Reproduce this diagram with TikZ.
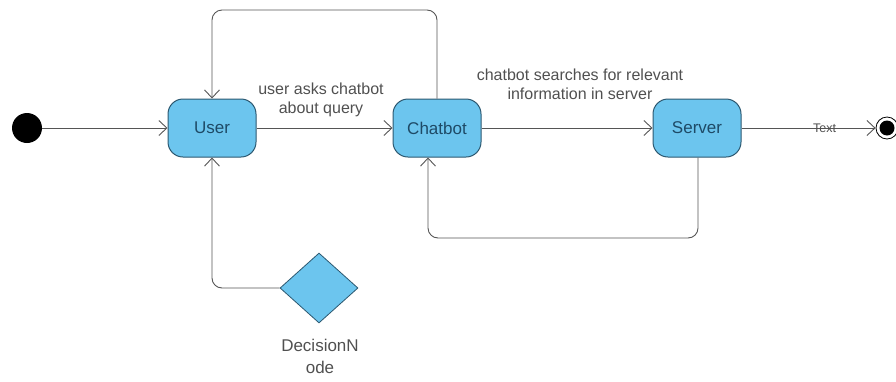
\documentclass[tikz,border=0pt]{standalone}
\usepackage{fontspec}
\setmainfont{Liberation Sans}
\usetikzlibrary{arrows.meta,shapes.geometric}
\definecolor{nodefill}{HTML}{6CC5EE}
\definecolor{nodeline}{HTML}{2C5870}
\definecolor{nodetext}{HTML}{1E4A66}
\definecolor{edge}{HTML}{555555}
\definecolor{lbl}{HTML}{505050}
\begin{document}
\begin{tikzpicture}[x=1pt,y=-1pt,
  state/.style={draw=nodeline,fill=nodefill,rounded corners=15pt,minimum width=88pt,minimum height=58pt,line width=1pt,text=nodetext,font=\fontsize{17}{20}\selectfont,inner sep=0pt},
  conn/.style={draw=edge,line width=0.9pt,rounded corners=10pt,-{Straight Barb[length=8pt,width=15pt,line width=0.9pt]}},
  lab/.style={text=lbl,font=\fontsize{16}{19}\selectfont,align=center}]
\useasboundingbox (0,0) rectangle (896,381);
\node[circle,fill=black,minimum size=30pt,inner sep=0pt] (init) at (27,128) {};
\node[state] (user) at (212,128) {User};
\node[state] (chat) at (437,128) {Chatbot};
\node[state] (serv) at (697,128) {Server};
\node[circle,draw=black,line width=0.8pt,minimum size=22pt,inner sep=0pt] (fin) at (887,128) {};
\node[circle,fill=black,minimum size=15pt,inner sep=0pt] at (fin) {};
\node[diamond,draw=nodeline,fill=nodefill,line width=0.8pt,minimum width=78pt,minimum height=70pt,inner sep=0pt] (dec) at (319,288) {};
\node[lab,font=\fontsize{17}{22}\selectfont] (declab) at (320,356) {DecisionN\\ode};
\node[lab] (l1) at (321,100) {user asks chatbot\\about query};
\node[lab] (l2) at (580,84) {chatbot searches for relevant\\information in server};
\coordinate (t1) at (437,10);
\coordinate (t2) at (212,10);
\coordinate (b1) at (698,238);
\coordinate (b2) at (428,238);
\coordinate (d1) at (212,288);
\draw[conn] (init) -- (user);
\draw[conn] (user) -- (chat);
\draw[conn] (chat) -- (serv);
\draw[conn] (serv) -- node[pos=0.62,text=lbl,inner sep=0pt,font=\fontsize{12.5}{14}\selectfont]{Text} (fin);
\draw[conn] (chat.north) -- (t1) -- (t2) -- (user.north);
\draw[conn] (b1 |- serv.south) -- (b1) -- (b2) -- (b2 |- chat.south);
\draw[conn] (dec.west) -- (d1) -- (user.south);
\end{tikzpicture}
\end{document}
